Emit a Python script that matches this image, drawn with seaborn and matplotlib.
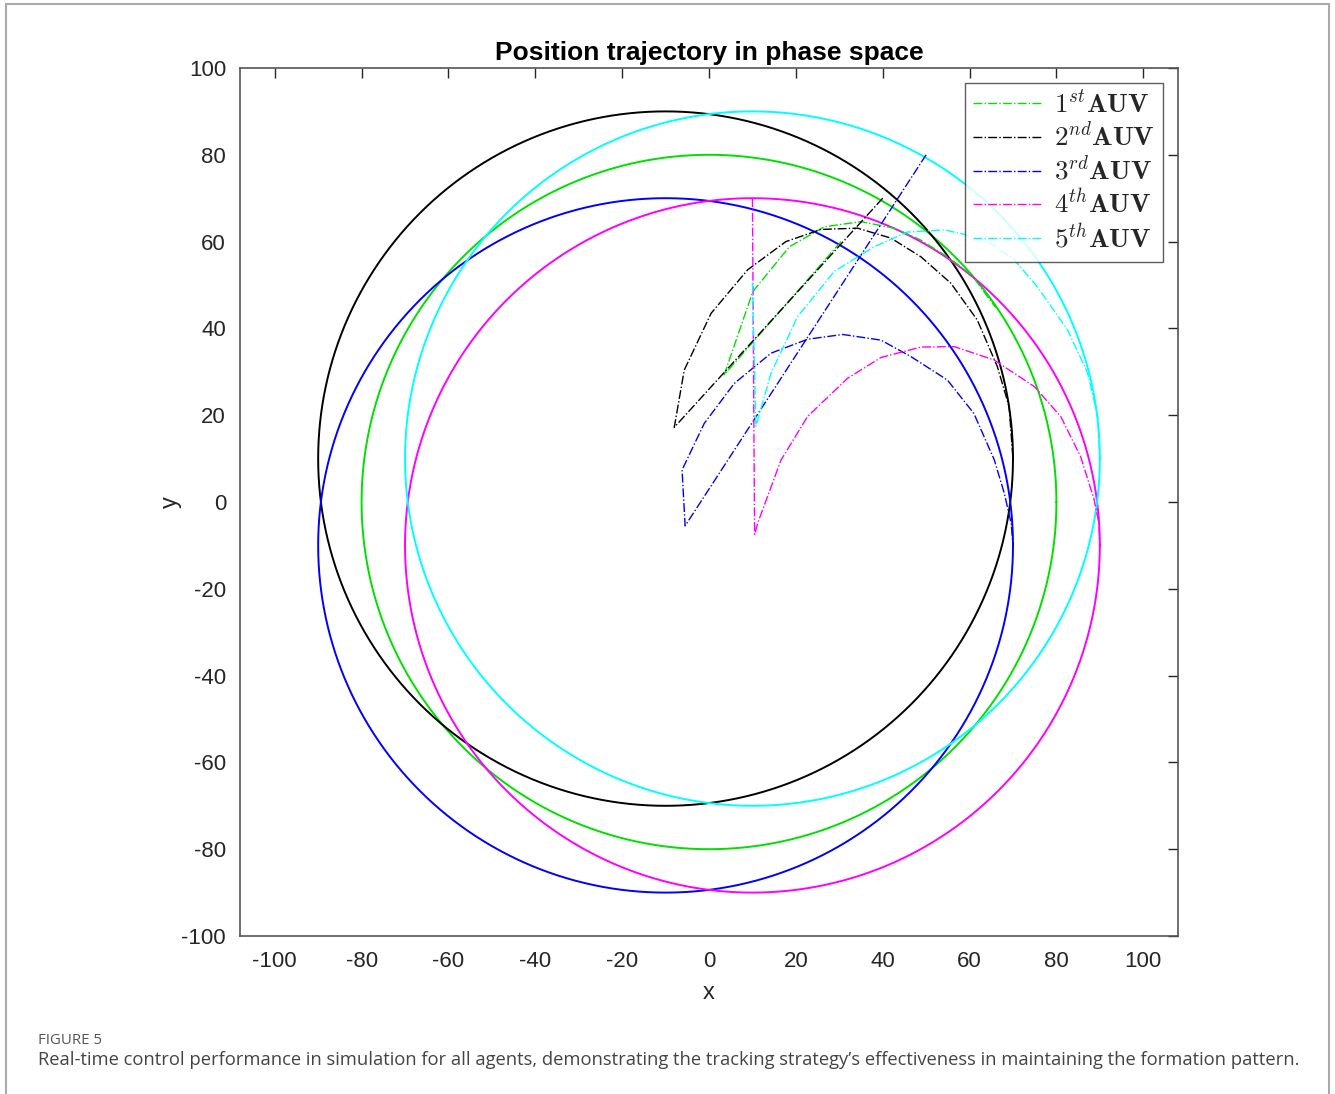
import numpy as np
import pandas as pd
import matplotlib
matplotlib.use("Agg")
import matplotlib.pyplot as plt
import seaborn as sns
from matplotlib.patches import Rectangle

# ---------------- data ----------------
labels = [r'$1^{st}\mathbf{AUV}$', r'$2^{nd}\mathbf{AUV}$', r'$3^{rd}\mathbf{AUV}$',
          r'$4^{th}\mathbf{AUV}$', r'$5^{th}\mathbf{AUV}$']
colors = ['#00e000', '#000000', '#0000ff', '#ff00ff', '#00ffff']

# reference circles (desired formation paths)
circle_cx = [0, -10, -10, 10, 10]
circle_cy = [0, 10, -10, -10, 10]
circle_r = [80, 80, 80, 80, 80]

# transient trajectories
auv1_x = [30.4, 3.5, 10.1, 18.5, 26.5, 35.0, 42.6, 48.5, 54.9, 60.5, 66.0]
auv1_y = [60.0, 29.3, 48.5, 58.8, 63.4, 64.6, 63.1, 60.5, 56.5, 52.3, 44.8]

auv2_x = [40.0, -8.0, -5.7, 0.5, 8.9, 17.7, 25.8, 34.2, 41.9, 48.8, 55.7, 61.8, 66.4, 69.1, 70.0]
auv2_y = [70.0, 17.2, 30.4, 43.5, 53.5, 60.0, 62.8, 63.1, 60.8, 56.5, 50.4, 41.9, 31.2, 22.0, 10.0]

auv3_x = [50.0, -5.5, -6.2, -1.1, 5.8, 14.3, 22.7, 30.8, 39.6, 46.5, 54.9, 61.0, 65.7, 68.0, 69.6, 70.0]
auv3_y = [80.0, -5.5, 7.4, 18.1, 27.3, 34.3, 37.5, 38.6, 37.3, 33.5, 28.1, 20.4, 9.7, 2.0, -5.0, -10.0]

auv4_x = [10.0, 10.5, 11.2, 16.6, 22.7, 31.9, 39.6, 48.8, 56.5, 65.7, 74.9, 81.0, 85.6, 88.7, 89.8, 90.0]
auv4_y = [70.0, -7.5, -4.9, 9.7, 19.7, 28.5, 33.3, 35.7, 35.8, 32.7, 26.6, 19.7, 10.4, 0.5, -5.0, -10.0]

auv5_x = [10.0, 10.8, 14.3, 20.4, 28.8, 38.0, 45.7, 54.2, 59.5, 65.0, 70.3, 75.6, 82.6, 87.2, 89.5, 90.0]
auv5_y = [50.5, 17.4, 29.7, 42.7, 53.1, 58.8, 62.2, 62.7, 61.5, 59.5, 55.8, 49.6, 39.6, 29.7, 19.7, 10.0]

traj_x = [auv1_x, auv2_x, auv3_x, auv4_x, auv5_x]
traj_y = [auv1_y, auv2_y, auv3_y, auv4_y, auv5_y]

ticks = list(range(-100, 101, 20))

# ---------------- style ----------------
sns.set_theme(style="white")
plt.rcParams['font.family'] = ['Liberation Sans', 'DejaVu Sans']
plt.rcParams['mathtext.fontset'] = 'cm'
plt.rcParams['axes.unicode_minus'] = False

fig = plt.figure(figsize=(13.35, 10.94), dpi=100)
ax = fig.add_axes([240 / 1335, 1 - 936 / 1094, (1178 - 240) / 1335, (936 - 68) / 1094])

theta = np.linspace(0, 2 * np.pi, 721)
for i in range(5):
    df = pd.DataFrame({'x': circle_cx[i] + circle_r[i] * np.cos(theta),
                       'y': circle_cy[i] + circle_r[i] * np.sin(theta)})
    sns.lineplot(data=df, x='x', y='y', sort=False, estimator=None, ax=ax,
                 color=colors[i], linewidth=1.4, zorder=2)

handles = []
for i in range(5):
    df = pd.DataFrame({'x': traj_x[i], 'y': traj_y[i]})
    sns.lineplot(data=df, x='x', y='y', sort=False, estimator=None, ax=ax,
                 color=colors[i], linewidth=1.0, linestyle='-.', zorder=3)
    handles.append(ax.lines[-1])

ax.set_xlim(-108, 108)
ax.set_ylim(-100, 100)
ax.set_xticks(ticks)
ax.set_yticks(ticks)
ax.tick_params(direction='in', length=7, width=1, colors='#262626',
               top=True, right=True, labelsize=16)
ax.tick_params(axis='x', pad=11)
ax.tick_params(axis='y', pad=10)
for s in ax.spines.values():
    s.set_color('#555555')
    s.set_linewidth(1.2)
    s.set_visible(True)

ax.set_xlabel('x', fontsize=17, color='#262626', labelpad=7)
ax.set_ylabel('y', fontsize=17, color='#262626', labelpad=0)
ax.set_title('Position trajectory in phase space', fontsize=19, fontweight='bold',
             color='black', pad=6)

leg = ax.legend(handles, labels, loc='upper right', fontsize=19.5, frameon=True,
                fancybox=False, edgecolor='#333333', handlelength=2.6,
                borderaxespad=0.55, labelspacing=0.17, handletextpad=0.4,
                borderpad=0.3)
leg.get_frame().set_linewidth(1.0)

# figure frame and caption
fig.patches.append(Rectangle((6 / 1335, -0.02), (1329 - 6) / 1335, 1.02 - 4 / 1094,
                             transform=fig.transFigure, fill=False,
                             edgecolor='#aaaaaa', linewidth=1.5))
fig.text(38 / 1335, 1 - 1041 / 1094, 'FIGURE 5', fontsize=10.8, color='#555555',
         family=['Open Sans', 'DejaVu Sans'], va='center', ha='left')
fig.text(38 / 1335, 1 - 1060 / 1094,
         'Real-time control performance in simulation for all agents, demonstrating the '
         'tracking strategy\u2019s effectiveness in maintaining the formation pattern.',
         fontsize=13.2, color='#444444', family=['Open Sans', 'DejaVu Sans'],
         va='center', ha='left')

fig.savefig('out.png', dpi=100)
